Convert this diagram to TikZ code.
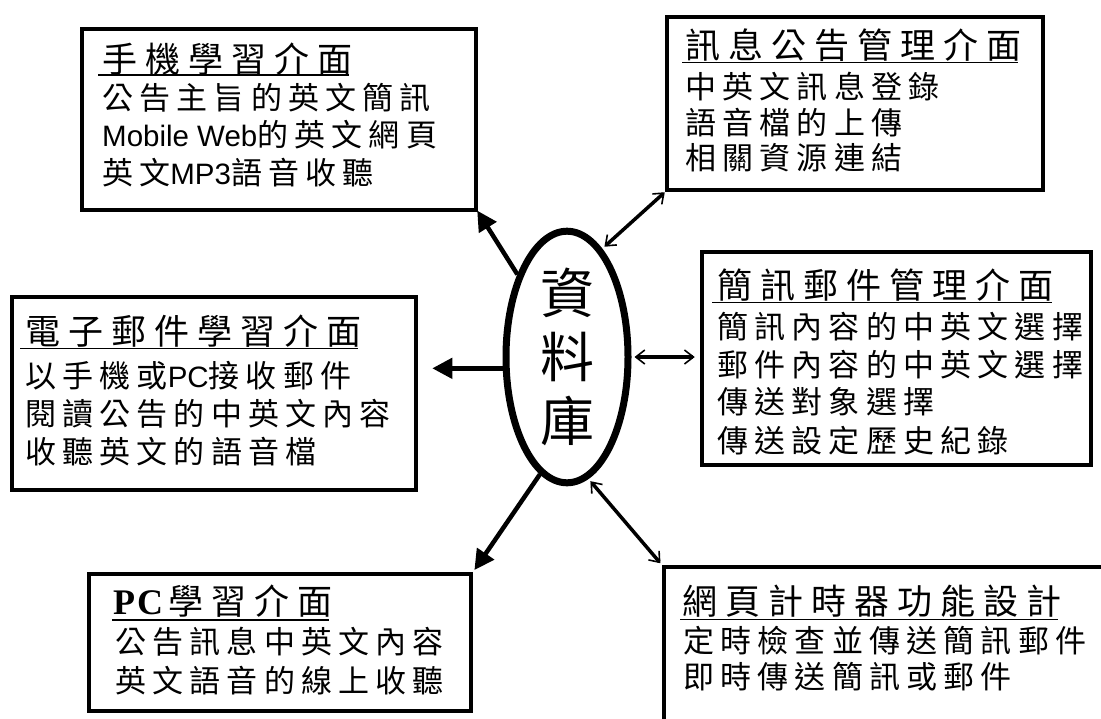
\documentclass[tikz,border=0pt]{standalone}
\usepackage{fontspec}
\usetikzlibrary{arrows.meta,shapes.geometric,calc}
\newfontfamily\cjkbody{Noto Sans CJK TC}[LetterSpace=20]
\newfontfamily\cjktitle{Noto Sans CJK TC}[LetterSpace=23]
\newfontfamily\cjkdb{Noto Sans CJK TC}
\newfontfamily\lat{Liberation Sans}
\newfontfamily\pcfont{Liberation Serif}
\newcommand\bodyf{\cjkbody\fontsize{31pt}{31pt}\selectfont}
\newcommand\titlef{\cjktitle\fontsize{35pt}{35pt}\selectfont}
\newcommand\latf[1]{{\lat\fontsize{29.5pt}{29.5pt}\selectfont #1}}
\begin{document}
\begin{tikzpicture}[x=1pt,y=-1pt,
  box/.style={draw, line width=4.5pt, rectangle, inner sep=0pt},
  ttl/.style={anchor=base west, inner sep=0pt, font=\titlef},
  bd/.style={anchor=base west, inner sep=0pt, font=\bodyf},
  uline/.style={line width=1.8pt},
  single/.style={line width=4.5pt, -{Triangle[length=20pt,width=20pt]}},
  dbl/.style={line width=3.5pt, {Straight Barb[length=9pt,width=14pt,line width=1.6pt]}-{Straight Barb[length=9pt,width=14pt,line width=1.6pt]}}
]
\useasboundingbox (0,0) rectangle (1101,718);
\fill[white] (0,0) rectangle (1101,718);
\clip (0,0) rectangle (1101,718);

% boxes
\node[box, minimum width=394pt, minimum height=181pt] (b1) at (279,119.5) {};
\node[box, minimum width=376pt, minimum height=173pt] (b2) at (855,103.5) {};
\node[box, minimum width=404pt, minimum height=193pt] (b3) at (214,393.5) {};
\node[box, minimum width=389pt, minimum height=213pt] (b4) at (896.5,358.5) {};
\node[box, minimum width=382pt, minimum height=137pt] (b5) at (280,642.5) {};
\node[box, minimum width=536pt, minimum height=233pt] (b6) at (932,683.5) {};

% database ellipse
\node[ellipse, draw, line width=7pt, minimum width=122pt, minimum height=234pt,
      inner sep=0pt, align=center, font=\cjkdb\fontsize{54pt}{64pt}\selectfont] (db) at (567,357) {資\\料\\庫};

% box 1
\node[ttl] (t1) at (102,72) {手機學習介面};
\draw[uline] ($(t1.base west)+(-4,3)$) -- ($(t1.base east)+(-4,3)$);
\node[bd] (b1a) at (102,109) {公告主旨的英文簡訊};
\node[bd] (b1b) at (102,146.5) {\latf{Mobile Web}的英文網頁};
\node[bd] (b1c) at (102,184) {英文\latf{MP3}語音收聽};

% box 2
\node[ttl] (t2) at (685,58.5) {訊息公告管理介面};
\draw[uline] ($(t2.base west)+(-3,4)$) -- ($(t2.base east)+(-4,4)$);
\node[bd] (b2a) at (685,98.5) {中英文訊息登錄};
\node[bd] (b2b) at (685,134.5) {語音檔的上傳};
\node[bd] (b2c) at (685,169.5) {相關資源連結};

% box 3
\node[ttl] (t3) at (25,344.5) {電子郵件學習介面};
\draw[uline] ($(t3.base west)+(-5,4)$) -- ($(t3.base east)+(-4,4)$);
\node[bd] (b3a) at (25,387) {以手機或\latf{PC}接收郵件};
\node[bd] (b3b) at (25,425.5) {閱讀公告的中英文內容};
\node[bd] (b3c) at (25,463.5) {收聽英文的語音檔};

% box 4
\node[ttl] (t4) at (717,298.5) {簡訊郵件管理介面};
\draw[uline] ($(t4.base west)+(-5,4)$) -- ($(t4.base east)+(-2,4)$);
\node[bd] (b4a) at (717,338) {簡訊內容的中英文選擇};
\node[bd] (b4b) at (717,376) {郵件內容的中英文選擇};
\node[bd] (b4c) at (717,413.5) {傳送對象選擇};
\node[bd] (b4d) at (717,452) {傳送設定歷史紀錄};

% box 5
\node[ttl] (t5) at (113,614) {{\pcfont\bfseries\fontsize{36pt}{36pt}\selectfont P\kern2pt C\kern5pt}學習介面};
\draw[uline] ($(t5.base west)+(-1,6)$) -- ($(t5.base east)+(-4,6)$);
\node[bd] (b5a) at (115,653.5) {公告訊息中英文內容};
\node[bd] (b5b) at (115,692) {英文語音的線上收聽};

% box 6
\node[ttl] (t6) at (682,614.5) {網頁計時器功能設計};
\draw[uline] ($(t6.base west)+(-2,5)$) -- ($(t6.base east)+(-4,5)$);
\node[bd] (b6a) at (683,652) {定時檢查並傳送簡訊郵件};
\node[bd] (b6b) at (683,688.5) {即時傳送簡訊或郵件};

% connectors
\draw[single, shorten >=-2pt] (db.121) -- (b1.south east);
\draw[dbl, shorten <=3pt] (db.72) -- (b2.south west);
\draw[single, shorten >=14pt] (db.190) -- (db.190 -| b3.east);
\draw[dbl, shorten <=3pt, shorten >=5pt] (db.east) -- (db.east -| b4.west);
\draw[single, shorten >=2pt] (db.257) -- (b5.north east);
\draw[dbl, shorten <=3pt, shorten >=2pt] (db.280) -- (b6.north west);
\end{tikzpicture}
\end{document}
